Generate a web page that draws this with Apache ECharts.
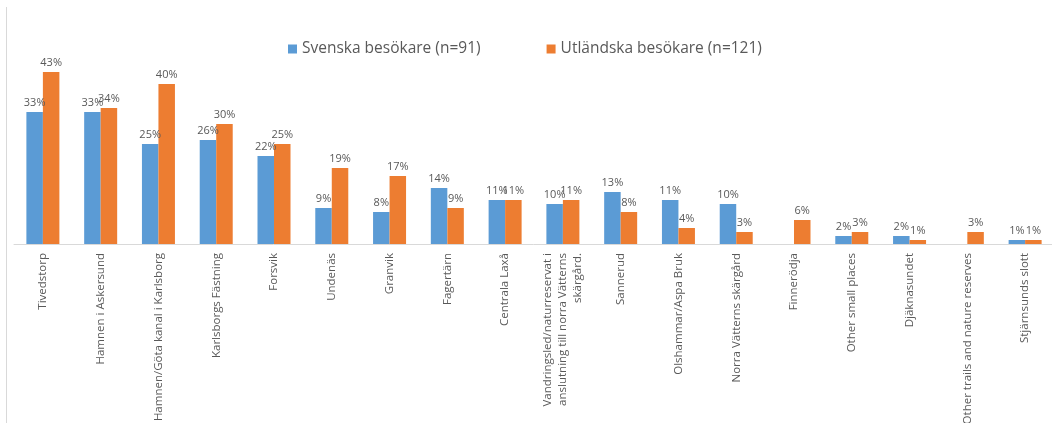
<!DOCTYPE html>
<html>
<head>
<meta charset="utf-8">
<script src="https://cdn.jsdelivr.net/npm/echarts@6/dist/echarts.min.js"></script>
<style>
  html, body { margin: 0; padding: 0; background: #fff; }
  #chart { width: 1052px; height: 423px; }
</style>
</head>
<body>
<div id="chart"></div>
<script>
const categories = [
  'Tivedstorp',
  'Hamnen i Askersund',
  'Hamnen/Göta kanal i Karlsborg',
  'Karlsborgs Fästning',
  'Forsvik',
  'Undenäs',
  'Granvik',
  'Fagertärn',
  'Centrala Laxå',
  'Vandringsled/naturreservat i\nanslutning till norra Vätterns\nskärgård.',
  'Sannerud',
  'Olshammar/Aspa Bruk',
  'Norra Vätterns skärgård',
  'Finnerödja',
  'Other small places',
  'Djäknasundet',
  'Other trails and nature reserves',
  'Stjärnsunds slott'
];
const svenska = [33, 33, 25, 26, 22, 9, 8, 14, 11, 10, 13, 11, 10, null, 2, 2, null, 1];
const utlandska = [43, 34, 40, 30, 25, 19, 17, 9, 11, 11, 8, 4, 3, 6, 3, 1, 3, 1];
const seriesNames = ['Svenska besökare (n=91)', 'Utländska besökare (n=121)'];

const textColor = '#595959';
const font = '"Open Sans", sans-serif';

const chart = echarts.init(document.getElementById('chart'));

const labelOpt = {
  show: true,
  position: 'top',
  distance: 4,
  color: textColor,
  fontFamily: font,
  fontSize: 11,
  formatter: (p) => p.value + '%'
};

chart.setOption({
  animation: false,
  legend: {
    top: 36,
    left: 283,
    itemWidth: 9,
    itemHeight: 9,
    itemGap: 66,
    icon: 'rect',
    textStyle: { color: textColor, fontFamily: font, fontSize: 15.5 },
    data: seriesNames
  },
  grid: { left: 14, right: -2, top: 44, height: 200, outerBoundsMode: 'none', containLabel: false },
  xAxis: {
    type: 'category',
    data: categories,
    axisLine: { lineStyle: { color: '#d9d9d9' } },
    axisTick: { show: false },
    axisLabel: {
      interval: 0,
      rotate: 90,
      margin: 9,
      color: textColor,
      fontFamily: font,
      fontSize: 11.5,
      lineHeight: 15
    }
  },
  yAxis: {
    type: 'value',
    min: 0,
    max: 50,
    show: false,
    splitLine: { show: false }
  },
  graphic: [{
    type: 'line',
    shape: { x1: 6.5, y1: 7, x2: 6.5, y2: 423 },
    style: { stroke: '#d9d9d9', lineWidth: 1 }
  }],
  series: [
    {
      name: seriesNames[0],
      type: 'bar',
      data: svenska,
      barWidth: 16.5,
      barGap: '0%',
      itemStyle: { color: '#5b9bd5' },
      label: labelOpt
    },
    {
      name: seriesNames[1],
      type: 'bar',
      data: utlandska,
      barWidth: 16.5,
      itemStyle: { color: '#ed7d31' },
      label: labelOpt
    }
  ]
});
</script>
</body>
</html>
